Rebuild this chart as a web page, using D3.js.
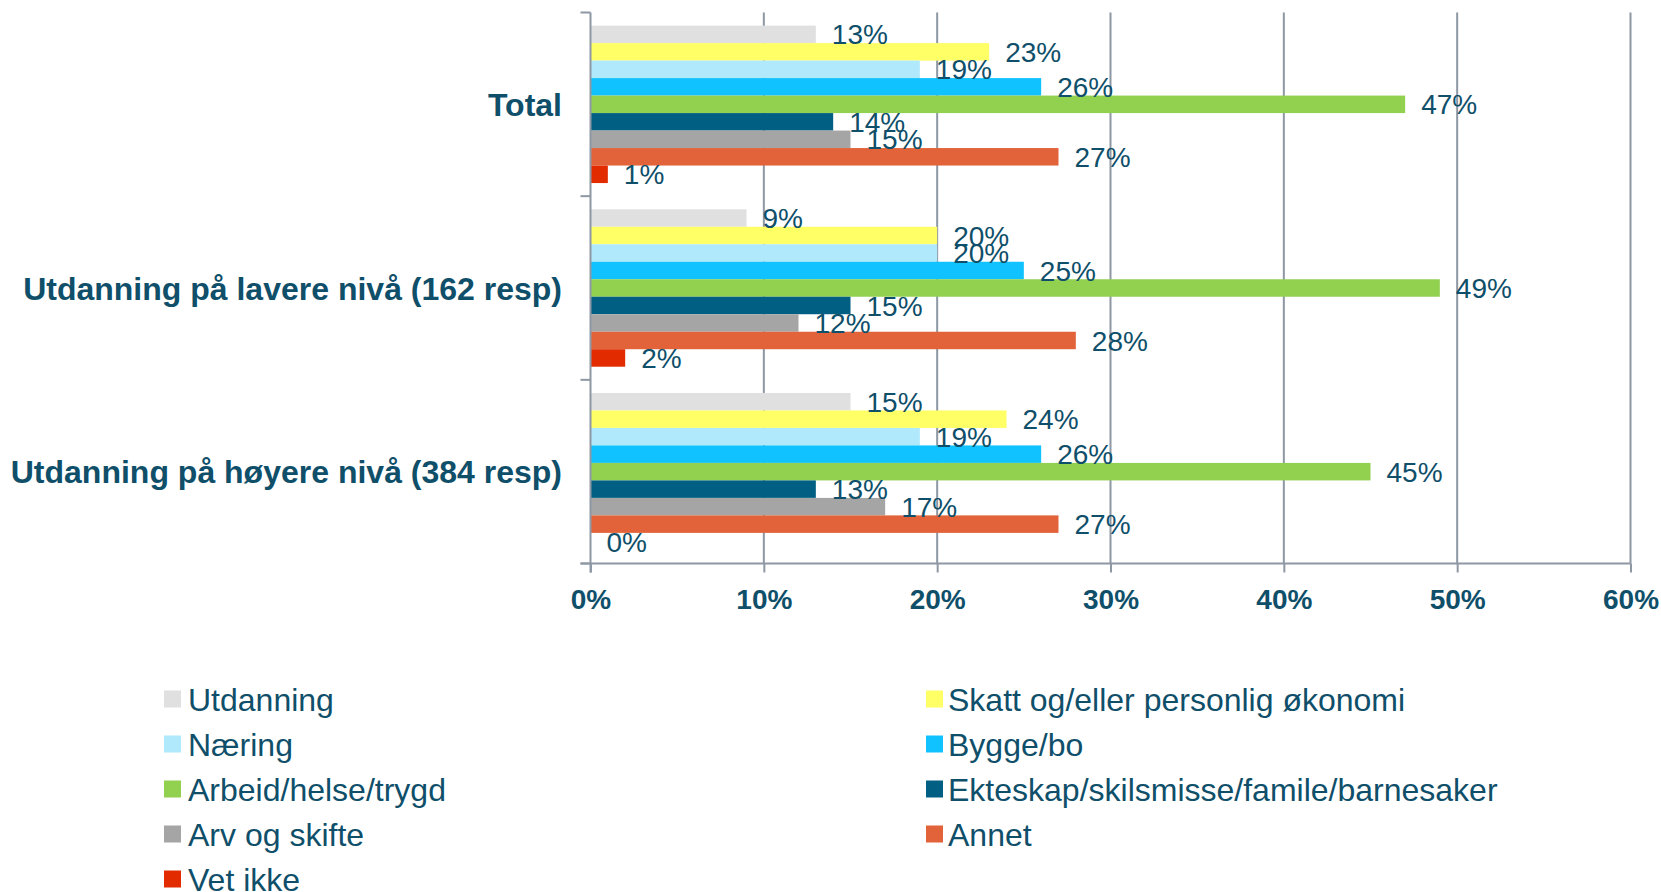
<!DOCTYPE html>
<html>
<head>
<meta charset="utf-8">
<script src="https://cdn.jsdelivr.net/npm/d3@7"></script>
<style>
  body { margin: 0; background: #fff; }
  svg { display: block; font-family: "Liberation Sans", Arial, sans-serif; }
</style>
</head>
<body>
<div id="chart"></div>
<script>
// categories (top to bottom)
var groups = ["Total", "Utdanning på lavere nivå (162 resp)", "Utdanning på høyere nivå (384 resp)"];

// series, in legend order
var series = ["Utdanning", "Skatt og/eller personlig økonomi", "Næring", "Bygge/bo",
  "Arbeid/helse/trygd", "Ekteskap/skilsmisse/famile/barnesaker", "Arv og skifte", "Annet", "Vet ikke"];
var colors = ["#e0e0e0", "#ffff66", "#b0e9fc", "#10c2ff", "#92d050", "#005f82", "#a5a5a5", "#e2633a", "#e22c00"];

// values per group (percent), same order as series
var totalVals  = [13, 23, 19, 26, 47, 14, 15, 27, 1];
var laverVals  = [9, 20, 20, 25, 49, 15, 12, 28, 2];
var hoyereVals = [15, 24, 19, 26, 45, 13, 17, 27, 0];
var values = [totalVals, laverVals, hoyereVals];

var xTicks = [0, 10, 20, 30, 40, 50, 60];

var W = 1661, H = 892;
var textCol = "#0f4f6a", gridCol = "#8d98a4";

var svg = d3.select("#chart").append("svg")
  .attr("width", W).attr("height", H);

var x = d3.scaleLinear().domain([0, 60]).range([590.5, 1630.5]);
var y = d3.scaleBand().domain(groups).range([12.5, 563.5]).padding(0);
var yInner = d3.scaleBand().domain(series).range([0, y.bandwidth()])
  .paddingInner(0).paddingOuter(0.75);

// gridlines
svg.append("g").selectAll("line")
  .data(xTicks.slice(1))
  .enter().append("line")
  .attr("x1", function(d) { return x(d); })
  .attr("x2", function(d) { return x(d); })
  .attr("y1", y.range()[0])
  .attr("y2", y.range()[1])
  .attr("stroke", gridCol).attr("stroke-width", 2);

// bars
var g = svg.append("g").selectAll("g")
  .data(groups)
  .enter().append("g")
  .attr("transform", function(d) { return "translate(0," + y(d) + ")"; });

g.selectAll("rect")
  .data(function(d, i) { return values[i].map(function(v, j) { return {s: series[j], v: v, c: colors[j]}; }); })
  .enter().append("rect")
  .attr("x", x(0))
  .attr("y", function(d) { return yInner(d.s); })
  .attr("width", function(d) { return x(d.v) - x(0); })
  .attr("height", yInner.bandwidth())
  .attr("fill", function(d) { return d.c; });

// data labels
g.selectAll("text")
  .data(function(d, i) { return values[i].map(function(v, j) { return {s: series[j], v: v}; }); })
  .enter().append("text")
  .attr("x", function(d) { return x(d.v) + 16; })
  .attr("y", function(d) { return yInner(d.s) + yInner.bandwidth() / 2; })
  .attr("dy", "0.36em")
  .attr("fill", textCol)
  .style("font-size", "28px")
  .text(function(d) { return d.v + "%"; });

// x axis
var xAxis = svg.append("g")
  .attr("transform", "translate(0," + y.range()[1] + ")")
  .call(d3.axisBottom(x).tickValues(xTicks).tickSize(9).tickPadding(17)
    .tickFormat(function(d) { return d + "%"; }));
xAxis.select(".domain").attr("stroke", gridCol).attr("stroke-width", 2)
  .attr("d", "M" + (x(0) - 10) + ",0H" + x(60));
xAxis.selectAll(".tick line").attr("stroke", gridCol).attr("stroke-width", 2);
xAxis.selectAll(".tick text")
  .attr("fill", textCol)
  .style("font-size", "28px")
  .style("font-weight", "bold")
  .style("font-family", "'Liberation Sans', Arial, sans-serif");

// y axis line and boundary ticks
svg.append("line")
  .attr("x1", x(0)).attr("x2", x(0))
  .attr("y1", y.range()[0]).attr("y2", y.range()[1] + 9)
  .attr("stroke", gridCol).attr("stroke-width", 2);
var bounds = groups.map(function(d) { return y(d); }).concat([y.range()[1]]);
svg.append("g").selectAll("line")
  .data(bounds)
  .enter().append("line")
  .attr("x1", x(0) - 10).attr("x2", x(0))
  .attr("y1", function(d) { return d; })
  .attr("y2", function(d) { return d; })
  .attr("stroke", gridCol).attr("stroke-width", 2);

// category labels
svg.append("g").selectAll("text")
  .data(groups)
  .enter().append("text")
  .attr("x", 562)
  .attr("y", function(d) { return y(d) + y.bandwidth() / 2; })
  .attr("dy", "0.36em")
  .attr("text-anchor", "end")
  .attr("fill", textCol)
  .style("font-size", "32px")
  .style("font-weight", "bold")
  .text(function(d) { return d; });

// legend
var legend = svg.append("g").selectAll("g")
  .data(series)
  .enter().append("g")
  .attr("transform", function(d, i) {
    var cx = (i % 2 === 0) ? 164 : 926;
    var cy = 699 + Math.floor(i / 2) * 45;
    return "translate(" + cx + "," + cy + ")";
  });
legend.append("rect")
  .attr("x", 0).attr("y", -8.5)
  .attr("width", 17).attr("height", 17)
  .attr("fill", function(d, i) { return colors[i]; });
legend.append("text")
  .attr("x", function(d, i) { return i % 2 === 0 ? 24 : 22; })
  .attr("y", 0)
  .attr("dy", "0.36em")
  .attr("fill", textCol)
  .style("font-size", "32px")
  .text(function(d) { return d; });
</script>
</body>
</html>
